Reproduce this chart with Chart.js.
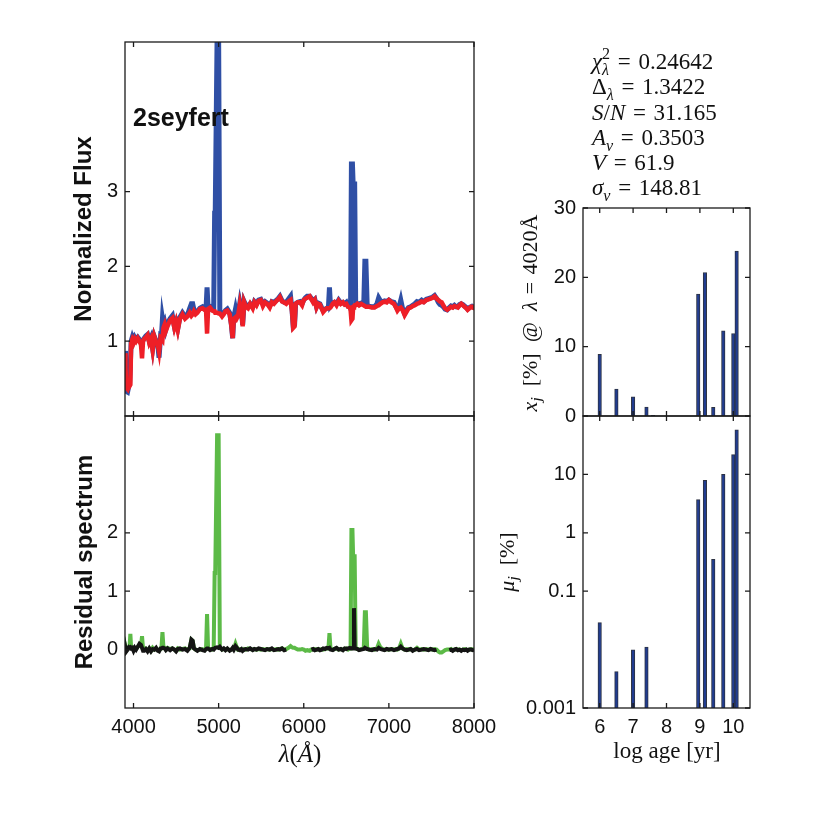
<!DOCTYPE html>
<html lang="en">
<head>
<meta charset="UTF-8">
<title>2seyfert - spectral fit</title>
<script src="https://cdn.jsdelivr.net/npm/chart.js"></script>
<style>
    body { margin: 0; background: #fff; }
    #wrap { position: relative; width: 834px; height: 834px; }
    #wrap canvas { position: absolute; left: 0; top: 0; }
</style>
</head>
<body>
<div id="wrap">
    <canvas id="flux" width="834" height="834"></canvas>
    <canvas id="resid" width="834" height="834"></canvas>
    <canvas id="light" width="834" height="834"></canvas>
    <canvas id="mass" width="834" height="834"></canvas>
</div>
<script>
// wavelength grid (Angstrom)
const wave = [3900,3906,3915,3930,3945,3953,3963,3972,3985,4000,
    4015,4030,4050,4070,4088,4100,4112,4125,4145,4165,
    4185,4205,4225,4245,4265,4285,4300,4318,4328,4340,
    4352,4365,4380,4400,4430,4457,4480,4500,4520,4545,
    4575,4605,4633,4660,4680,4695,4710,4730,4750,4780,
    4810,4835,4852,4864,4876,4900,4925,4942,4953,4960,
    4982,5000,5014,5040,5060,5080,5102,5130,5150,5165,
    5178,5198,5210,5228,5250,5268,5282,5300,5320,5345,
    5370,5400,5420,5445,5470,5495,5520,5545,5570,5600,
    5625,5650,5680,5700,5720,5745,5770,5795,5820,5845,
    5862,5876,5892,5905,5930,5955,5980,6000,6020,6040,
    6070,6090,6110,6130,6150,6170,6190,6210,6228,6250,
    6270,6290,6302,6314,6340,6360,6385,6410,6435,6460,
    6480,6500,6520,6540,6550,6560,6572,6580,6590,6598,
    6610,6630,6650,6675,6705,6718,6730,6745,6770,6800,
    6830,6860,6880,6900,6925,6950,6975,7000,7030,7060,
    7080,7100,7120,7140,7160,7185,7210,7230,7255,7280,
    7305,7330,7355,7385,7410,7440,7465,7490,7515,7537,
    7560,7580,7600,7620,7640,7660,7685,7710,7730,7750,
    7770,7790,7810,7830,7850,7870,7890,7910,7925,7945,
    7965,7985,8000];

// observed spectrum (blue)
const obsFlux = [0.87,0.70,0.33,0.32,0.40,0.42,0.69,1.00,1.05,1.00,
    1.05,1.02,1.05,1.02,0.98,1.00,1.01,1.04,1.07,1.09,
    1.00,1.05,0.90,1.06,1.00,0.96,0.78,1.07,1.06,1.30,
    1.21,1.25,1.16,1.24,1.30,1.34,1.20,1.26,1.17,1.32,
    1.38,1.33,1.35,1.44,1.50,1.50,1.42,1.38,1.40,1.44,
    1.46,1.43,1.44,1.72,1.45,1.46,1.42,1.42,2.71,2.71,
    5.06,5.06,1.39,1.36,1.38,1.41,1.43,1.38,1.22,1.04,
    1.32,1.43,1.36,1.35,1.52,1.42,1.22,1.53,1.48,1.47,
    1.50,1.46,1.53,1.50,1.55,1.56,1.50,1.53,1.51,1.47,
    1.53,1.52,1.55,1.57,1.60,1.54,1.52,1.52,1.56,1.60,
    1.42,1.20,1.22,1.50,1.52,1.53,1.50,1.55,1.58,1.60,
    1.60,1.57,1.54,1.56,1.46,1.51,1.50,1.45,1.41,1.43,
    1.44,1.46,1.72,1.47,1.51,1.52,1.50,1.55,1.51,1.52,
    1.50,1.52,1.47,1.47,1.44,3.37,3.37,3.10,3.10,3.10,
    1.50,1.50,1.50,1.51,1.50,2.07,2.07,1.48,1.47,1.46,
    1.46,1.50,1.58,1.54,1.53,1.54,1.53,1.55,1.53,1.52,
    1.47,1.43,1.46,1.55,1.44,1.37,1.42,1.45,1.46,1.48,
    1.50,1.53,1.52,1.55,1.53,1.56,1.57,1.58,1.59,1.61,
    1.57,1.52,1.49,1.48,1.46,1.43,1.42,1.45,1.47,1.46,
    1.48,1.46,1.46,1.49,1.50,1.49,1.47,1.45,1.43,1.45,
    1.46,1.46,1.49];

// synthetic model spectrum (red)
const modelFlux = [0.84,0.66,0.38,0.36,0.42,0.40,0.42,0.98,1.02,0.98,
    1.03,1.00,1.04,1.00,0.95,0.77,1.00,1.03,1.05,1.08,
    0.98,1.03,0.88,1.06,0.99,0.95,0.86,1.05,1.04,1.02,
    1.18,1.22,1.14,1.20,1.28,1.31,1.18,1.26,1.15,1.30,
    1.36,1.30,1.33,1.38,1.34,1.36,1.40,1.36,1.38,1.43,
    1.44,1.42,1.42,1.10,1.43,1.45,1.41,1.40,1.40,1.38,
    1.38,1.37,1.37,1.33,1.36,1.40,1.41,1.36,1.20,1.04,
    1.30,1.32,1.30,1.34,1.50,1.40,1.20,1.52,1.46,1.44,
    1.50,1.44,1.52,1.48,1.54,1.55,1.47,1.52,1.50,1.45,
    1.52,1.50,1.54,1.56,1.59,1.53,1.52,1.50,1.53,1.55,
    1.40,1.18,1.20,1.50,1.52,1.52,1.48,1.55,1.57,1.58,
    1.60,1.56,1.52,1.55,1.45,1.50,1.49,1.44,1.39,1.42,
    1.44,1.44,1.44,1.45,1.50,1.52,1.48,1.54,1.50,1.52,
    1.49,1.50,1.46,1.45,1.42,1.28,1.30,1.45,1.47,1.48,
    1.48,1.50,1.48,1.50,1.48,1.47,1.46,1.46,1.46,1.45,
    1.45,1.47,1.48,1.50,1.52,1.53,1.52,1.55,1.52,1.50,
    1.46,1.41,1.44,1.45,1.42,1.35,1.40,1.44,1.45,1.47,
    1.48,1.50,1.51,1.53,1.52,1.55,1.56,1.57,1.58,1.60,
    1.57,1.55,1.53,1.52,1.48,1.44,1.42,1.44,1.46,1.45,
    1.47,1.46,1.45,1.48,1.50,1.48,1.46,1.44,1.42,1.44,
    1.46,1.45,1.48];

// residual, all pixels (green)
const residAll = [0.03,0.04,-0.02,0.01,0.03,0.03,0.27,0.03,0.02,0.02,
    0.02,0.01,0.05,0.08,0.06,0.23,0.01,0.01,0.02,0.00,
    0.02,-0.02,0.03,0.00,0.02,0.00,-0.02,0.01,0.02,0.30,
    0.03,0.03,0.00,0.03,0.01,0.02,0.00,-0.02,0.02,0.00,
    0.01,0.02,0.00,0.02,0.17,0.15,0.02,0.00,-0.01,0.00,
    0.01,-0.01,0.01,0.61,0.02,0.01,0.00,0.02,1.31,1.31,
    3.67,3.67,0.03,0.00,0.01,0.00,0.01,-0.01,0.00,0.02,
    0.01,0.10,0.05,0.00,0.01,0.00,-0.01,0.01,0.00,0.02,
    0.01,0.00,0.01,0.00,0.01,0.00,0.01,0.00,0.01,0.00,
    0.01,0.00,0.01,0.00,0.01,0.02,0.00,0.01,0.03,0.06,
    0.04,0.03,0.03,0.02,0.00,0.00,0.01,0.00,-0.02,-0.01,
    -0.02,0.00,0.00,0.01,0.00,0.01,0.00,0.01,0.00,0.01,
    0.02,0.02,0.28,0.02,0.00,0.01,0.02,0.00,0.01,0.00,
    0.01,0.02,0.00,0.02,0.02,2.05,2.05,1.60,1.60,1.60,
    0.02,0.01,0.00,0.01,0.02,0.64,0.64,0.02,0.00,0.01,
    0.00,0.02,0.10,0.04,0.01,0.00,0.01,0.00,0.01,0.00,
    0.01,0.00,0.02,0.10,0.02,0.00,0.01,0.00,0.01,-0.01,
    0.00,0.03,0.00,0.01,0.00,0.01,0.00,0.01,0.00,0.01,
    0.00,-0.03,-0.05,-0.05,-0.03,-0.01,0.00,0.00,0.01,-0.01,
    0.00,0.01,0.00,0.00,-0.01,0.00,0.01,0.00,-0.01,0.00,
    0.01,0.00,0.00];

// residual of fitted (unmasked) pixels (black)
const residFit = [0.02,0.03,-0.03,0.00,0.04,0.03,0.04,0.02,0.03,-0.02,
    0.03,0.00,0.05,0.10,0.08,0.03,-0.02,-0.02,0.01,-0.03,
    0.02,-0.03,0.01,0.00,0.03,-0.02,-0.03,0.02,0.02,0.03,
    0.03,0.02,-0.01,0.02,-0.01,0.02,0.00,-0.03,0.01,0.02,
    0.00,0.01,-0.02,0.03,0.17,0.15,0.02,0.00,-0.02,0.01,
    -0.01,-0.02,0.01,0.02,0.02,-0.01,0.01,0.00,0.02,0.03,
    0.04,0.03,0.05,0.00,0.02,-0.01,0.02,-0.02,0.00,0.03,
    0.00,0.06,0.04,0.00,-0.01,0.01,-0.02,0.00,0.01,0.00,
    0.02,-0.01,0.01,0.00,0.02,0.01,0.00,-0.01,0.01,0.00,
    0.02,-0.01,0.00,0.01,0.00,0.02,-0.01,0.00,null,null,
    null,null,null,null,null,null,null,null,null,null,
    null,0.00,0.01,-0.01,0.00,0.01,-0.01,0.00,0.02,0.01,
    0.03,0.02,0.03,0.00,-0.01,0.01,0.03,0.00,0.01,-0.01,
    0.02,0.01,0.02,0.03,0.02,0.02,0.03,0.02,0.71,0.03,
    0.02,0.01,-0.01,0.00,0.01,0.03,0.02,0.01,0.00,-0.01,
    0.01,0.00,0.03,0.01,0.00,-0.01,0.01,0.00,0.01,-0.01,
    0.00,0.01,0.02,0.05,0.02,0.00,-0.01,0.00,0.01,-0.02,
    0.00,0.01,-0.01,0.00,0.01,0.00,-0.01,0.01,0.00,-0.01,
    0.00,null,null,null,null,null,null,-0.01,0.00,-0.02,
    0.00,0.01,-0.01,0.00,-0.02,0.00,-0.01,0.00,-0.02,0.00,
    0.00,-0.01,0.00];

// population vectors
const logAge = [6.0, 6.5, 7.0, 7.4, 7.6, 8.95, 9.15, 9.4, 9.7, 10.0, 10.1];
const lightFrac = [8.9, 3.9, 2.75, 1.3, 0.1, 17.6, 20.7, 1.25, 12.3, 11.9, 23.8];
const massFrac = [0.029, 0.0042, 0.0099, 0.011, null, 3.7, 7.9, 0.35, 10, 21.8, 58];

// ticks
const waveTicks = [4000, 5000, 6000, 7000, 8000];
const fluxTicks = [1, 2, 3];
const residTicks = [0, 1, 2];
const ageTicks = [6, 7, 8, 9, 10];
const lightTicks = [0, 10, 20, 30];
const massTicks = [0.001, 0.1, 1, 10];

Chart.defaults.font.family = '"Liberation Sans", Arial, sans-serif';
Chart.defaults.color = '#111';

const SANS = '"Liberation Sans", Arial, sans-serif';
const SERIF = '"Liberation Serif", "Times New Roman", serif';

// frame + inward tick marks, matlab style
const boxPlugin = {
    id: 'box',
    afterDatasetsDraw(chart, args, opts) {
        const ctx = chart.ctx, a = chart.chartArea;
        const sx = chart.scales.x, sy = chart.scales.y;
        ctx.save();
        ctx.strokeStyle = '#1b1b1b';
        ctx.lineWidth = 1.3;
        ctx.beginPath();
        (opts.xTicks || []).forEach(v => {
            const p = sx.getPixelForValue(v);
            ctx.moveTo(p, a.bottom); ctx.lineTo(p, a.bottom - 5);
            ctx.moveTo(p, a.top); ctx.lineTo(p, a.top + 5);
        });
        (opts.yTicks || []).forEach(v => {
            const p = sy.getPixelForValue(v);
            ctx.moveTo(a.left, p); ctx.lineTo(a.left + 5, p);
            ctx.moveTo(a.right, p); ctx.lineTo(a.right - 5, p);
        });
        ctx.stroke();
        ctx.strokeRect(a.left, a.top, a.right - a.left, a.bottom - a.top);
        ctx.restore();
    }
};

// text with sub/superscripts; flags: i italic, b sub, p sup, k keep position
function partFont(it, f) {
    const size = /[bp]/.test(f) ? it.size * 0.7 : it.size;
    return (f.includes('i') ? 'italic ' : '') + (it.weight || 'normal') + ' ' + size + 'px ' + it.family;
}
function drawItem(ctx, it) {
    ctx.save();
    let x = 0, keep = 0;
    const out = [];
    it.parts.forEach(([t, f = '']) => {
        ctx.font = partFont(it, f);
        const w = ctx.measureText(t).width;
        const dy = f.includes('b') ? it.size * 0.28 : f.includes('p') ? -it.size * 0.42 : 0;
        out.push({t, f, x, dy});
        if (f.includes('k')) keep = w;
        else { x += Math.max(w, keep); keep = 0; }
    });
    ctx.translate(it.x, it.y);
    if (it.rotate) ctx.rotate(-Math.PI / 2);
    ctx.fillStyle = '#111';
    ctx.textAlign = 'left';
    ctx.textBaseline = it.baseline || 'alphabetic';
    const x0 = it.align === 'center' ? -x / 2 : 0;
    out.forEach(p => {
        ctx.font = partFont(it, p.f);
        ctx.fillText(p.t, x0 + p.x, p.dy);
    });
    ctx.restore();
}
const textPlugin = {
    id: 'texts',
    afterDraw(chart, args, opts) {
        (opts.items || []).forEach(it => drawItem(chart.ctx, it));
    }
};

const EQ = '\u2004=\u2004';
const plain = v => String(v);

function yAxis(min, max, ticks, left, extra) {
    return Object.assign({
        type: 'linear', min: min, max: max,
        afterFit: s => { s.width = left; },
        afterBuildTicks: s => { s.ticks = ticks.map(v => ({value: v})); },
        grid: {display: false, drawTicks: false},
        border: {display: false},
        ticks: {padding: 7, font: {size: 20}, color: '#111', callback: plain}
    }, extra || {});
}
function xAxis(min, max, ticks, height) {
    return {
        type: 'linear', min: min, max: max, offset: false,
        display: height > 0,
        afterFit: s => { s.height = height; },
        afterBuildTicks: s => { s.ticks = ticks.map(v => ({value: v})); },
        grid: {display: false, drawTicks: false},
        border: {display: false},
        ticks: {padding: 7, font: {size: 20}, color: '#111', maxRotation: 0, autoSkip: false, callback: plain}
    };
}
function xy(ys) {
    return wave.map((w, i) => ({x: w, y: ys[i]}));
}
const common = {
    responsive: false,
    animation: false,
    events: [],
    plugins: {legend: {display: false}, tooltip: {enabled: false}}
};

// top left: observed vs model
new Chart(document.getElementById('flux'), {
    type: 'line',
    data: {
        datasets: [
            {data: xy(modelFlux), borderColor: '#ee1f27', borderWidth: 4.5, pointRadius: 0, tension: 0},
            {data: xy(obsFlux), borderColor: '#2f4fa5', borderWidth: 5, pointRadius: 0, tension: 0}
        ]
    },
    options: Object.assign({}, common, {
        layout: {padding: {left: 0, top: 42, right: 360, bottom: 418}},
        scales: {x: xAxis(3900, 8000, waveTicks, 0), y: yAxis(0, 5, fluxTicks, 125)},
        plugins: Object.assign({}, common.plugins, {
            box: {xTicks: waveTicks, yTicks: fluxTicks},
            texts: {items: [
                {parts: [['2seyfert']], x: 133, y: 126, size: 25, weight: 'bold', family: SANS},
                {parts: [['Normalized Flux']], x: 84, y: 229, size: 24, weight: 'bold', family: SANS,
                 rotate: true, align: 'center', baseline: 'middle'}
            ]}
        })
    }),
    plugins: [boxPlugin, textPlugin]
});

// bottom left: residual spectrum
new Chart(document.getElementById('resid'), {
    type: 'line',
    data: {
        datasets: [
            {data: xy(residFit), borderColor: '#141414', borderWidth: 4, pointRadius: 0, tension: 0},
            {data: xy(residAll), borderColor: '#5cba47', borderWidth: 4, pointRadius: 0, tension: 0}
        ]
    },
    options: Object.assign({}, common, {
        layout: {padding: {left: 0, top: 416, right: 360, bottom: 0}},
        scales: {x: xAxis(3900, 8000, waveTicks, 126), y: yAxis(-1, 4, residTicks, 125)},
        plugins: Object.assign({}, common.plugins, {
            box: {xTicks: waveTicks, yTicks: residTicks},
            texts: {items: [
                {parts: [['Residual spectrum']], x: 85, y: 562, size: 24, weight: 'bold', family: SANS,
                 rotate: true, align: 'center', baseline: 'middle'},
                {parts: [['\u03bb', 'i'], ['('], ['\u00c5', 'i'], [')']], x: 300, y: 762, size: 25,
                 family: SERIF, align: 'center'}
            ]}
        })
    }),
    plugins: [boxPlugin, textPlugin]
});

const barStyle = {backgroundColor: '#213c8f', borderColor: '#2d3343', borderWidth: 1, barThickness: 3.5};

// top right: light fractions
new Chart(document.getElementById('light'), {
    type: 'bar',
    data: {datasets: [Object.assign({data: logAge.map((a, i) => ({x: a, y: lightFrac[i]}))}, barStyle)]},
    options: Object.assign({}, common, {
        layout: {padding: {left: 0, top: 208, right: 84, bottom: 418}},
        scales: {x: xAxis(5.5, 10.5, ageTicks, 0), y: yAxis(0, 30, lightTicks, 583)},
        plugins: Object.assign({}, common.plugins, {
            box: {xTicks: ageTicks, yTicks: lightTicks},
            texts: {items: [
                {parts: [['\u03c7', 'i'], ['2', 'pk'], ['\u03bb', 'ib'], [EQ + '0.24642']], x: 592, y: 69, size: 23, family: SERIF},
                {parts: [['\u0394'], ['\u03bb', 'ib'], [EQ + '1.3422']], x: 592, y: 94, size: 23, family: SERIF},
                {parts: [['S', 'i'], ['/'], ['N', 'i'], [EQ + '31.165']], x: 592, y: 120, size: 23, family: SERIF},
                {parts: [['A', 'i'], ['v', 'ib'], [EQ + '0.3503']], x: 592, y: 145, size: 23, family: SERIF},
                {parts: [['V', 'i'], [EQ + '61.9']], x: 592, y: 170, size: 23, family: SERIF},
                {parts: [['\u03c3', 'i'], ['v', 'ib'], [EQ + '148.81']], x: 592, y: 195, size: 23, family: SERIF},
                {parts: [['x', 'i'], ['j', 'ib'], ['\u2002[%]\u2002@\u2002'], ['\u03bb', 'i'], [EQ + '4020\u00c5']],
                 x: 531, y: 313, size: 22, family: SERIF, rotate: true, align: 'center', baseline: 'middle'}
            ]}
        })
    }),
    plugins: [boxPlugin, textPlugin]
});

// bottom right: mass fractions, log scale
new Chart(document.getElementById('mass'), {
    type: 'bar',
    data: {datasets: [Object.assign({data: logAge.map((a, i) => ({x: a, y: massFrac[i]}))}, barStyle)]},
    options: Object.assign({}, common, {
        layout: {padding: {left: 0, top: 416, right: 84, bottom: 0}},
        scales: {
            x: xAxis(5.5, 10.5, ageTicks, 126),
            y: yAxis(0.001, 100, massTicks, 583, {type: 'logarithmic', beginAtZero: false})
        },
        plugins: Object.assign({}, common.plugins, {
            box: {xTicks: ageTicks, yTicks: massTicks},
            texts: {items: [
                {parts: [['\u03bc', 'i'], ['j', 'ib'], ['\u2002[%]']], x: 508, y: 562, size: 22, family: SERIF,
                 rotate: true, align: 'center', baseline: 'middle'},
                {parts: [['log age [yr]']], x: 667, y: 758, size: 23, family: SERIF, align: 'center'}
            ]}
        })
    }),
    plugins: [boxPlugin, textPlugin]
});
</script>
</body>
</html>
